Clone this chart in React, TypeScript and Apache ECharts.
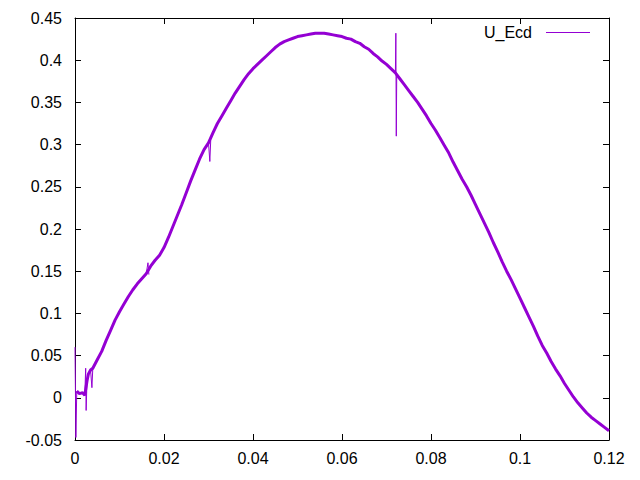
import React, { useEffect, useRef } from "react";
import * as echarts from "echarts";

const seriesName = "U_Ecd";
const xTicks = [0, 0.02, 0.04, 0.06, 0.08, 0.1, 0.12];
const yTicks = [-0.05, 0, 0.05, 0.1, 0.15, 0.2, 0.25, 0.3, 0.35, 0.4, 0.45];

// smooth body of the trace
const time = [
  0.0004, 0.001, 0.0017, 0.0022, 0.0027, 0.003, 0.0035, 0.004,
  0.005, 0.006, 0.007, 0.008, 0.009, 0.01, 0.011, 0.012, 0.013, 0.014, 0.015, 0.016,
  0.017, 0.018, 0.019, 0.02, 0.021, 0.022, 0.023, 0.024, 0.025, 0.026, 0.027, 0.028, 0.029, 0.03,
  0.031, 0.032, 0.033, 0.034, 0.035, 0.036, 0.037, 0.038, 0.039, 0.04, 0.041, 0.042,
  0.043, 0.044, 0.045, 0.046, 0.047, 0.048, 0.049, 0.05, 0.051, 0.052, 0.053, 0.054, 0.055, 0.056,
  0.057, 0.058, 0.059, 0.06, 0.061, 0.062, 0.063, 0.064, 0.065, 0.066, 0.067, 0.068, 0.069, 0.07,
  0.071, 0.072, 0.073, 0.074, 0.075, 0.076, 0.077, 0.078, 0.079, 0.08, 0.081,
  0.082, 0.083, 0.084, 0.085, 0.086, 0.087, 0.088, 0.089, 0.09, 0.091, 0.092, 0.093, 0.094, 0.095,
  0.096, 0.097, 0.098, 0.099, 0.1, 0.101, 0.102, 0.103, 0.104, 0.105, 0.106, 0.107, 0.108, 0.109,
  0.11, 0.111, 0.112, 0.113, 0.114, 0.115, 0.116, 0.117, 0.118, 0.119, 0.12,
];

const uEcd = [
  0.008, 0.005, 0.006, 0.003, 0.02, 0.028, 0.033, 0.035,
  0.045, 0.055, 0.068, 0.08, 0.092, 0.102, 0.111, 0.12, 0.128, 0.135, 0.141, 0.147,
  0.156, 0.163, 0.169, 0.178, 0.19, 0.203, 0.216, 0.229, 0.243, 0.257, 0.27, 0.283, 0.294, 0.302,
  0.314, 0.325, 0.334, 0.343, 0.352, 0.361, 0.369, 0.377, 0.384, 0.39, 0.395, 0.4,
  0.405, 0.41, 0.415, 0.419, 0.422, 0.424, 0.426, 0.428, 0.429, 0.43, 0.431, 0.432, 0.432, 0.432,
  0.431, 0.43, 0.429, 0.428, 0.426, 0.425, 0.422, 0.42, 0.416, 0.413, 0.408, 0.404, 0.399, 0.395,
  0.39, 0.385, 0.378, 0.371, 0.364, 0.357, 0.35, 0.342, 0.334, 0.325, 0.317,
  0.308, 0.299, 0.29, 0.279, 0.269, 0.259, 0.25, 0.24, 0.229, 0.218, 0.207, 0.196, 0.184, 0.173,
  0.161, 0.15, 0.14, 0.129, 0.118, 0.107, 0.096, 0.085, 0.073, 0.062, 0.053, 0.043, 0.034, 0.026,
  0.017, 0.009, 0.001, -0.006, -0.012, -0.018, -0.023, -0.027, -0.031, -0.035, -0.039,
];

// thin single-sample spikes; null separates spikes
const spikeTime = [
  0, 0.0002, 0.0004, null,
  0.0022, 0.0024, 0.0025, 0.0027, null,
  0.0035, 0.0038, 0.004, null,
  0.016, 0.0164, 0.0166, null,
  0.03, 0.0303, 0.0305, null,
  0.072, 0.0721, 0.0722, 0.0723,
];
const spikeU = [
  0.06, -0.047, 0.008, null,
  0.003, 0.035, -0.015, 0.02, null,
  0.033, 0.012, 0.035, null,
  0.147, 0.16, 0.146, null,
  0.302, 0.28, 0.305, null,
  0.385, 0.432, 0.31, 0.384,
];

const FONT = "Liberation Sans, Arial, sans-serif";
const COLOR = "#9400d3";
const fmt = (v: number) => String(+v.toFixed(2));

export default function App() {
  const ref = useRef<HTMLDivElement>(null);
  useEffect(() => {
    if (!ref.current) return;
    const chart = echarts.init(ref.current, undefined, { renderer: "svg" });
    const xStep = xTicks[1] - xTicks[0];
    const yStep = yTicks[1] - yTicks[0];
    const axisCommon = {
      axisLine: { show: true, onZero: false, lineStyle: { color: "#000", width: 1 } },
      axisTick: { show: true, inside: true, length: 6, lineStyle: { color: "#000" } },
      splitLine: { show: false },
    };
    chart.setOption({
      animation: false,
      backgroundColor: "#fff",
      grid: { left: 75, right: 31, top: 18, bottom: 40, containLabel: false },
      graphic: [
        {
          type: "text",
          x: 532,
          y: 32,
          style: {
            text: seriesName,
            fontFamily: FONT,
            fontSize: 16,
            fill: "#000",
            align: "right",
            verticalAlign: "middle",
          },
        },
        {
          type: "line",
          shape: { x1: 546, y1: 32.5, x2: 590, y2: 32.5 },
          style: { stroke: COLOR, lineWidth: 1 },
        },
      ],
      xAxis: [
        {
          type: "value",
          min: xTicks[0],
          max: xTicks[xTicks.length - 1],
          interval: xStep,
          position: "bottom",
          ...axisCommon,
          axisLabel: { formatter: fmt, fontFamily: FONT, fontSize: 16, color: "#000", margin: 10 },
        },
        {
          type: "value",
          min: xTicks[0],
          max: xTicks[xTicks.length - 1],
          interval: xStep,
          position: "top",
          ...axisCommon,
          axisLabel: { show: false },
        },
      ],
      yAxis: [
        {
          type: "value",
          min: yTicks[0],
          max: yTicks[yTicks.length - 1],
          interval: yStep,
          position: "left",
          ...axisCommon,
          axisLabel: { formatter: fmt, fontFamily: FONT, fontSize: 16, color: "#000", margin: 13 },
        },
        {
          type: "value",
          min: yTicks[0],
          max: yTicks[yTicks.length - 1],
          interval: yStep,
          position: "right",
          ...axisCommon,
          axisLabel: { show: false },
        },
      ],
      series: [
        {
          name: seriesName,
          type: "line",
          data: time.map((t, i) => [t, uEcd[i]]),
          showSymbol: false,
          symbol: "none",
          lineStyle: { color: COLOR, width: 3 },
          itemStyle: { color: COLOR },
          clip: true,
        },
        {
          name: seriesName + " spikes",
          type: "line",
          data: spikeTime.map((t, i) => (t === null ? [null, null] : [t, spikeU[i]])),
          connectNulls: false,
          showSymbol: false,
          symbol: "none",
          lineStyle: { color: COLOR, width: 1 },
          itemStyle: { color: COLOR },
          clip: true,
        },
      ],
    });
    return () => chart.dispose();
  }, []);
  return <div ref={ref} style={{ width: 640, height: 480, position: "absolute", left: 0, top: 0 }} />;
}
